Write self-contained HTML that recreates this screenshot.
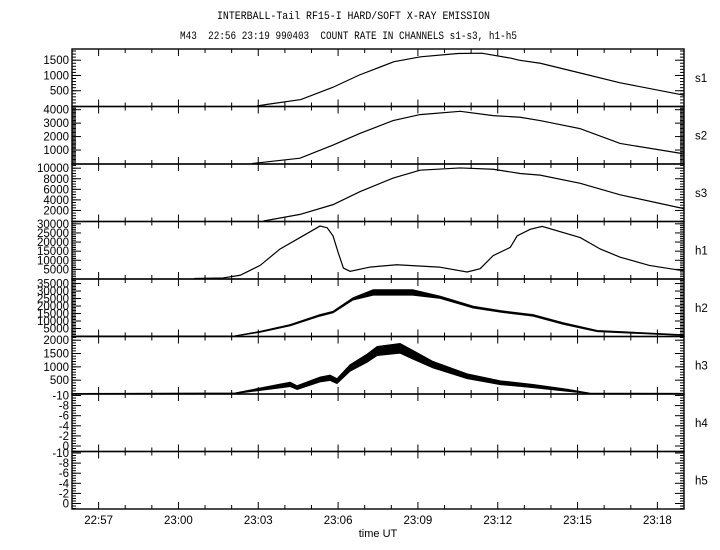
<!DOCTYPE html>
<html><head><meta charset="utf-8"><style>
html,body{margin:0;padding:0;background:#fff;}
svg{display:block;}
text{font-family:"Liberation Sans",sans-serif;fill:#000;}
.mono{font-family:"Liberation Mono",monospace;}
</style></head><body>
<svg id="chart" width="720" height="550" xmlns="http://www.w3.org/2000/svg">
<text class="mono" x="217" y="19" font-size="11" textLength="273" lengthAdjust="spacingAndGlyphs">INTERBALL-Tail RF15-I HARD/SOFT X-RAY EMISSION</text>
<text class="mono" x="180" y="39" font-size="11" textLength="337" lengthAdjust="spacingAndGlyphs" xml:space="preserve">M43  22:56 23:19 990403  COUNT RATE IN CHANNELS s1-s3, h1-h5</text>
<text x="378" y="537" font-size="11" text-anchor="middle">time UT</text>
</svg>
<script>
// time in minutes after 22:56
const xTickLabels = ["22:57","23:00","23:03","23:06","23:09","23:12","23:15","23:18"];
const xTickMinutes = [1,4,7,10,13,16,19,22];
const panelNames = ["s1","s2","s3","h1","h2","h3","h4","h5"];

const s1Times = [0,6.95,7.3,8.6,9.8,10.8,12.1,13.1,14.5,15.4,16.5,16.8,17.6,19.1,20.6,22.9,23];
const s1Values = [0,0,50,210,610,1015,1450,1610,1720,1730,1565,1500,1400,1080,760,370,350];
const s2Times = [0,6.77,8.57,9.81,10.83,12.07,13.08,14.59,15.83,16.84,17.59,19.1,20.6,22.86,23];
const s2Values = [0,0,395,1370,2245,3190,3635,3880,3560,3440,3190,2590,1490,760,700];
const s3Times = [0,7.2,8.57,9.81,10.83,12.07,13.08,14.59,15.83,16.84,17.59,19.1,20.6,22.86,23];
const s3Values = [0,0,1250,3100,5580,8130,9620,10050,9800,9000,8690,7140,4960,2490,2300];
const h1Times = [0,4.6,5.68,6.32,7.07,7.82,8.57,9.32,9.59,9.81,10.0,10.2,10.45,11.2,12.2,13.8,14.85,15.34,15.83,16.47,16.73,17.22,17.67,19.1,19.85,20.6,21.7,22.86,23];
const h1Values = [0,0,320,1780,7180,16200,22460,28780,27860,23380,14360,5720,3940,6260,7560,6260,3560,5400,12580,17060,23380,27000,28600,22460,16200,11700,7180,4480,4300];
const h2Times = [0,6.13,7.07,8.2,9.32,9.81,10.56,11.32,12.8,13.84,15.08,16.1,17.33,18.46,19.74,22.86,23];
const h2Values = [0,0,2830,7220,13790,15960,24750,29100,29100,25800,19240,16400,13790,8340,3280,700,650];
const h2Noise = [0,0,300,400,500,500,700,1800,1800,700,600,500,500,500,400,200,200];
const h3Times = [0,6.13,7.82,8.2,8.46,9.32,9.7,9.96,10.45,11.09,11.47,12.33,12.82,13.57,14.85,16.1,17.33,18.61,19.47,23];
const h3Values = [0,0,280,343,220,527,590,464,958,1327,1596,1695,1449,1080,649,405,280,122,0,0];
const h3Noise = [0,20,70,80,70,90,100,90,120,150,170,180,160,120,90,70,60,40,10,0];

const panelSeries = [
  {t:s1Times,v:s1Values,max:1850},
  {t:s2Times,v:s2Values,max:4200},
  {t:s3Times,v:s3Values,max:10700},
  {t:h1Times,v:h1Values,max:31000},
  {t:h2Times,v:h2Values,n:h2Noise,max:37700},
  {t:h3Times,v:h3Values,n:h3Noise,max:2120},
  null,null
];
const yTickValues = [[500,1000,1500],[1000,2000,3000,4000],[2000,4000,6000,8000,10000],[5000,10000,15000,20000,25000,30000],[5000,10000,15000,20000,25000,30000,35000],[500,1000,1500,2000],[0,-2,-4,-6,-8,-10],[0,-2,-4,-6,-8,-10]];
const yMinorStep = [100,100,500,1000,1000,100,0.5,0.5];

const NS="http://www.w3.org/2000/svg";
const svg=document.getElementById("chart");
const L=72,R=684,TOP=49,PH=57.5,NP=8,TMAX=23;
const xs=t=>L+(R-L)*t/TMAX;
function el(tag,attrs,parent){const e=document.createElementNS(NS,tag);for(const k in attrs)e.setAttribute(k,attrs[k]);(parent||svg).appendChild(e);return e;}

for(let i=0;i<NP;i++){
  const top=TOP+i*PH,bot=top+PH;
  const g=el("g",{});
  
  
  const s=panelSeries[i];
  let ys;
  if(s){ys=v=>bot-0.5-(v/s.max)*(PH-1);} else {ys=v=>top+1.5+(v+10)/10*(PH-7);}
  const ticks=yTickValues[i];
  let lo=s?0:-10.2,hi=s?s.max:1.0;
  for(let v=Math.ceil(lo/yMinorStep[i])*yMinorStep[i];v<=hi+1e-9;v+=yMinorStep[i]){
    const y=ys(v);if(y<top||y>bot)continue;
    el("line",{x1:L,x2:L+4,y1:y,y2:y,stroke:"#000","stroke-width":1},g);
    el("line",{x1:R-4,x2:R,y1:y,y2:y,stroke:"#000","stroke-width":1},g);
  }
  ticks.forEach(v=>{
    const y=ys(v);
    el("line",{x1:L,x2:L+9,y1:y,y2:y,stroke:"#000","stroke-width":1},g);
    el("line",{x1:R-9,x2:R,y1:y,y2:y,stroke:"#000","stroke-width":1},g);
    const tx=el("text",{x:L-3,y:y+4,"font-size":11.5,"text-anchor":"end"},g);
    
    
    tx.textContent=String(v);
  });
  for(let m=1;m<TMAX;m++){
    const x=xs(m),major=xTickMinutes.includes(m);
    const len=major?7:4;
    el("line",{x1:x,x2:x,y1:top,y2:top+len,stroke:"#000","stroke-width":1},g);
    el("line",{x1:x,x2:x,y1:bot-len,y2:bot,stroke:"#000","stroke-width":1},g);
  }
  const lab=el("text",{x:695,y:top+PH/2+4,"font-size":11.5},g);
  
  
  lab.textContent=panelNames[i];
  if(s){
    if(s.n){
      let up=[],dn=[];
      for(let k=0;k<s.t.length;k++){up.push(xs(s.t[k])+","+Math.max(top,ys(s.v[k]+s.n[k])));dn.unshift(xs(s.t[k])+","+Math.min(bot,ys(Math.max(0,s.v[k]-s.n[k]))));}
      const band=el("polygon",{points:up.concat(dn).join(" "),fill:"#000",stroke:"#000","stroke-width":1},g);
      
      
    }
    let st=0;while(st+1<s.v.length&&s.v[st+1]===0)st++;
    const p2=[];for(let k=st;k<s.t.length;k++)p2.push(xs(s.t[k])+","+ys(s.v[k]));
    const line=el("polyline",{points:p2.join(" "),fill:"none",stroke:"#000","stroke-width":1.2},g);
    
    
  }
  el("rect",{x:L,y:top,width:R-L,height:PH,fill:"none",stroke:"#000","stroke-width":1.4},g);
}
xTickLabels.forEach((lbl,k)=>{
  const t=el("text",{x:xs(xTickMinutes[k]),y:524,"font-size":11.5,"text-anchor":"middle"});
  
  
  t.textContent=lbl;
});
</script>
</body></html>
